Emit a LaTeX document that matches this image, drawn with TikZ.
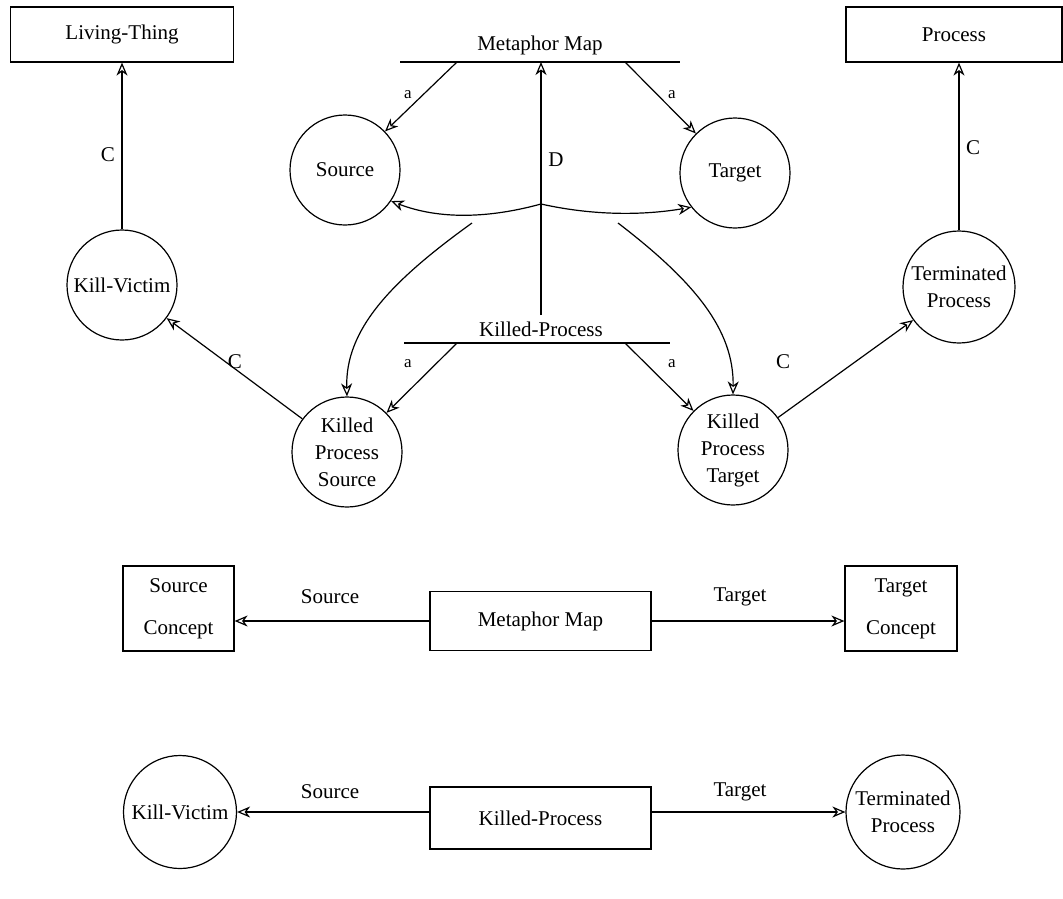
\documentclass[tikz,border=0pt]{standalone}
\usepackage{fontspec}
\setmainfont{Liberation Serif}
\usetikzlibrary{arrows.meta}
\begin{document}
\begin{tikzpicture}[x=1pt,y=-1pt,
  every node/.style={font=\fontsize{21}{27}\selectfont},
  rbox/.style={draw, line width=1.2pt, inner sep=0pt, align=center},
  circ/.style={draw, circle, line width=1.2pt, inner sep=0pt, minimum size=110pt, align=center},
  conn/.style={line width=1.2pt},
  arr/.style={line width=1.2pt, -{Stealth[open, length=13pt, width=11pt, inset=4pt]}},
  lab/.style={inner sep=1pt},
  smalllab/.style={inner sep=1pt, font=\fontsize{17}{19}\selectfont}
]
\useasboundingbox (0,0) rectangle (1063,898);

% ---------- top part ----------
\node[rbox, minimum width=223pt, minimum height=55pt] (lt) at (122,34.5) {Living-Thing};
\node[rbox, minimum width=216pt, minimum height=55pt] (pr) at (954,34.5) {Process};

\node (mmt) at (540,45) {Metaphor Map};
\coordinate (mml) at (400,62);
\coordinate (mmr) at (680,62);
\coordinate (mma) at (457,62);
\coordinate (mmb) at (625,62);
\coordinate (mmd) at (541,62);

\node[circ] (src) at (345,170) {Source};
\node[circ] (tgt) at (735,173) {Target};
\node[circ] (kv) at (122,285) {Kill-Victim};
\node[circ, minimum size=112pt] (tp) at (959,287) {Terminated\\Process};
\node[circ] (kps) at (347,452) {Killed\\Process\\Source};
\node[circ] (kpt) at (733,450) {Killed\\Process\\Target};

\node (kpl) at (541,329) {Killed-Process};
\coordinate (kpL) at (404,343);
\coordinate (kpR) at (670,343);
\coordinate (kpa) at (457,343);
\coordinate (kpb) at (625,343);
\coordinate (dstart) at (541,315);
\coordinate (peak) at (541,204);
\coordinate (cl) at (472,223);
\coordinate (cr) at (618,223);

\draw[conn] (mml) -- (mmr);
\draw[conn] (kpL) -- (kpR);
\draw[arr] (mma) -- (src);
\draw[arr] (mmb) -- (tgt);
\node[smalllab] at (408,95) {a};
\node[smalllab] at (672,95) {a};
\draw[arr] (dstart) -- (mmd);
\node[lab] at (556,160) {D};

\draw[arr] (peak) .. controls (490,218) and (440,220) .. (src.-34);
\draw[arr] (peak) .. controls (590,215) and (640,216) .. (tgt.218);
\draw[arr] (cl) .. controls (390,282) and (345,330) .. (kps.90);
\draw[arr] (cr) .. controls (695,282) and (734,330) .. (kpt.90);

\draw[arr] (kpa) -- (kps);
\draw[arr] (kpb) -- (kpt);
\node[smalllab] at (408,364) {a};
\node[smalllab] at (672,364) {a};

\draw[arr] (kps) -- (kv);
\node[lab] at (235,362) {C};
\draw[arr] (kpt) -- (tp);
\node[lab] at (783,362) {C};

\draw[arr] (kv.north) -- (lt.south);
\node[lab] at (108,155) {C};
\draw[arr] (tp.north) -- (tp.north |- pr.south);
\node[lab] at (973,148) {C};

% ---------- middle part ----------
\node[rbox, minimum width=111pt, minimum height=85pt] (sc) at (178.5,608.5) {Source\\[15pt]Concept};
\node[rbox, minimum width=112pt, minimum height=85pt] (tc) at (901,608.5) {Target\\[15pt]Concept};
\node[rbox, minimum width=221pt, minimum height=59pt] (mmbox) at (540.5,621) {Metaphor Map};
\draw[arr] (mmbox.west) -- (sc.east |- mmbox.west);
\draw[arr] (mmbox.east) -- (tc.west |- mmbox.east);
\node[lab] at (330,597) {Source};
\node[lab] at (740,597) {Target};

% ---------- bottom part ----------
\node[circ, minimum size=113pt] (kv2) at (180,812) {Kill-Victim};
\node[circ, minimum size=114pt] (tp2) at (903,812) {Terminated\\Process};
\node[rbox, minimum width=221pt, minimum height=62pt] (kpbox) at (540.5,818) {Killed-Process};
\draw[arr] (kpbox.west |- kv2.east) -- (kv2.east);
\draw[arr] (kpbox.east |- tp2.west) -- (tp2.west);
\node[lab] at (330,792) {Source};
\node[lab] at (740,792) {Target};
\end{tikzpicture}
\end{document}
